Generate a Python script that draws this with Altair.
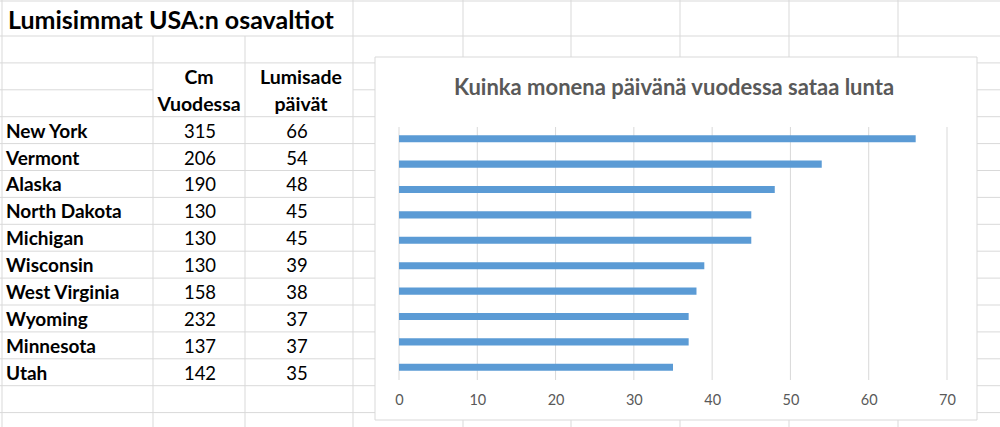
import altair as alt
import pandas as pd

# ---------------- data ----------------
states = ["New York", "Vermont", "Alaska", "North Dakota", "Michigan",
          "Wisconsin", "West Virginia", "Wyoming", "Minnesota", "Utah"]
cm_per_year = [315, 206, 190, 130, 130, 130, 158, 232, 137, 142]
snow_days = [66, 54, 48, 45, 45, 39, 38, 37, 37, 35]
header_cm = ["Cm", "Vuodessa"]
header_days = ["Lumisade", "päivät"]
sheet_title = "Lumisimmat USA:n osavaltiot"
chart_title = "Kuinka monena päivänä vuodessa sataa lunta"
x_ticks = [0, 10, 20, 30, 40, 50, 60, 70]

# ---------------- layout / style ----------------
W, H = 1000, 427
FONT = "Lato"
GRID = "#D9D9D9"
TXT = "#000000"
GREY = "#595959"
BLUE = "#5B9BD5"
ROW0, ROW_H = 36, 26.9
N_ROWS = 14
col_edges = [2, 153, 245, 353, 463, 571, 680, 789, 898]

row_scale = alt.Scale(domain=[0, N_ROWS], range=[ROW0, ROW0 + N_ROWS * ROW_H])

# spreadsheet grid segments
h_rows = []
h_rows.append({"y": 1, "x1": 0, "x2": W})
for r in range(N_ROWS + 1):
    y = ROW0 + r * ROW_H
    if r == 2:  # merged header cells
        h_rows.append({"y": y, "x1": 0, "x2": 153})
        h_rows.append({"y": y, "x1": 353, "x2": W})
    else:
        h_rows.append({"y": y, "x1": 0, "x2": W})
hgrid_df = pd.DataFrame(h_rows)

v_rows = []
for x in col_edges:
    top = ROW0 if x in (153, 245) else 0
    v_rows.append({"x": x, "y1": top, "y2": H})
vgrid_df = pd.DataFrame(v_rows)

hgrid = alt.Chart(hgrid_df).mark_rule(color=GRID, strokeWidth=1).encode(
    x=alt.X("x1:Q", scale=None, axis=None),
    x2="x2:Q",
    y=alt.Y("y:Q", scale=None, axis=None),
)
vgrid = alt.Chart(vgrid_df).mark_rule(color=GRID, strokeWidth=1).encode(
    x=alt.X("x:Q", scale=None, axis=None),
    y=alt.Y("y1:Q", scale=None, axis=None),
    y2="y2:Q",
)

title_sheet = alt.Chart(pd.DataFrame({"t": [sheet_title]})).mark_text(
    font=FONT, fontSize=25, fontWeight="bold", color=TXT, align="left", baseline="middle"
).encode(x=alt.value(8), y=alt.value(21), text="t:N")

# table
hdr_df = pd.DataFrame({
    "row": [1.5, 2.5, 1.5, 2.5],
    "col": ["cm", "cm", "days", "days"],
    "text": header_cm + header_days,
})
tbl_df = pd.DataFrame({
    "row": [3.5 + i for i in range(len(states))],
    "state": states,
    "cm": cm_per_year,
    "days": snow_days,
})

def hdr_layer(col, xpos):
    return alt.Chart(hdr_df[hdr_df.col == col]).mark_text(
        font=FONT, fontSize=19.5, fontWeight="bold", color=TXT, align="center",
        baseline="middle", dy=2
    ).encode(x=alt.value(xpos), y=alt.Y("row:Q", scale=row_scale, axis=None), text="text:N")

hdr_cm = hdr_layer("cm", 199)
hdr_days = hdr_layer("days", 301)

names = alt.Chart(tbl_df).mark_text(
    font=FONT, fontSize=19, fontWeight="bold", color=TXT, align="left", baseline="middle", dy=1.5
).encode(x=alt.value(6), y=alt.Y("row:Q", scale=row_scale, axis=None), text="state:N")
cm_txt = alt.Chart(tbl_df).mark_text(
    font=FONT, fontSize=18.5, color=TXT, align="center", baseline="middle", dy=1.5
).encode(x=alt.value(200), y=alt.Y("row:Q", scale=row_scale, axis=None), text="cm:Q")
days_txt = alt.Chart(tbl_df).mark_text(
    font=FONT, fontSize=18.5, color=TXT, align="center", baseline="middle", dy=1.5
).encode(x=alt.value(297), y=alt.Y("row:Q", scale=row_scale, axis=None), text="days:Q")

# chart box
box = alt.Chart(pd.DataFrame({"a": [0]})).mark_rect(
    fill="white", stroke=GRID, strokeWidth=1
).encode(x=alt.value(375), x2=alt.value(977), y=alt.value(57), y2=alt.value(420))

title_chart = alt.Chart(pd.DataFrame({"t": [chart_title]})).mark_text(
    font=FONT, fontSize=22, fontWeight="bold", color=GREY, align="center", baseline="middle"
).encode(x=alt.value(674), y=alt.value(88), text="t:N")

x_scale = alt.Scale(domain=[0, 70], range=[399, 947], nice=False, zero=True)
y_scale = alt.Scale(domain=states, range=[126, 380], paddingInner=0.72, paddingOuter=0.36)

vlines = alt.Chart(pd.DataFrame({"v": x_ticks})).mark_rule(color=GRID, strokeWidth=1).encode(
    x=alt.X("v:Q", scale=x_scale, axis=None),
    y=alt.value(127), y2=alt.value(380),
)

bars_df = pd.DataFrame({"state": states, "days": snow_days})
bars = alt.Chart(bars_df).mark_bar(color=BLUE).encode(
    x=alt.X("days:Q", scale=x_scale,
            axis=alt.Axis(orient="bottom", values=x_ticks, title=None, grid=False,
                          domain=False, ticks=False, tickSize=0, labelPadding=0,
                          offset=-27, labelBaseline="middle", labelFont=FONT,
                          labelFontSize=14.5, labelColor=GREY, labelAngle=0,
                          labelFlush=False, labelOverlap=False, zindex=2)),
    y=alt.Y("state:N", scale=y_scale, sort=states, axis=None),
)

chart = alt.layer(
    hgrid, vgrid, title_sheet, hdr_cm, hdr_days, names, cm_txt, days_txt,
    box, title_chart, vlines, bars
).resolve_scale(x="independent", y="independent").properties(
    width=W, height=H, padding=0, autosize=alt.AutoSizeParams(type="none"),
    background="white"
).configure_view(stroke=None)

chart.save("out.html", embed_options={"renderer": "svg", "actions": False})
